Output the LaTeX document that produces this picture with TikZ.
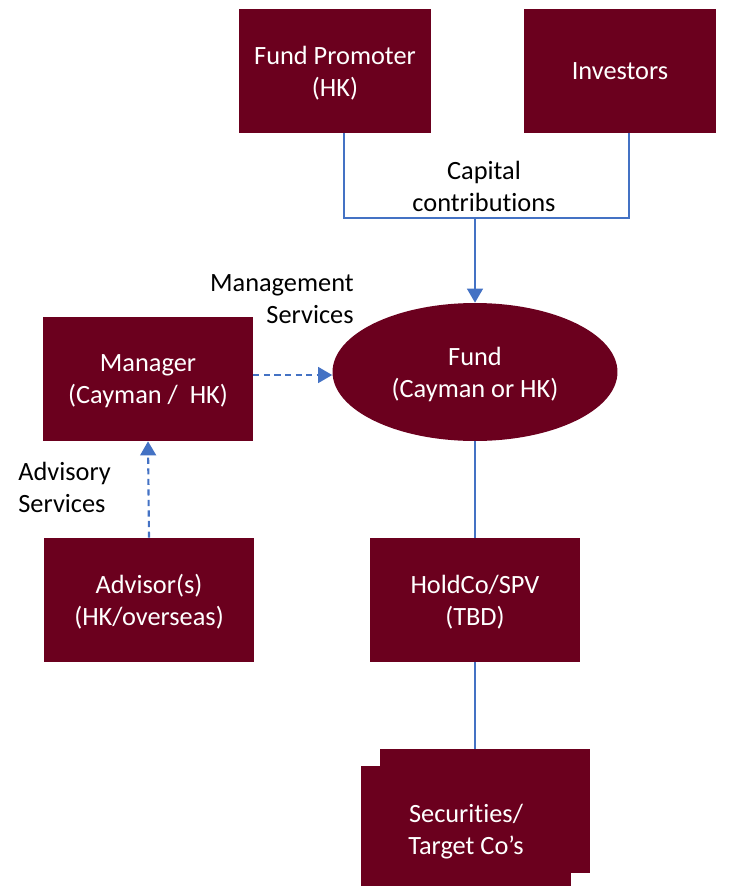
\documentclass[tikz,border=0pt]{standalone}
\usepackage{fontspec}
\setmainfont{Carlito}[Ligatures=CommonOff]
\usetikzlibrary{arrows.meta,shapes.geometric}
\definecolor{fundred}{RGB}{107,0,30}
\definecolor{flowblue}{RGB}{68,114,196}
\tikzset{
  entity/.style={fill=fundred, text=white, minimum width=4.2cm, minimum height=2.48cm,
    align=center, inner sep=0pt, text depth=0pt, font=\fontsize{15}{18.2}\selectfont},
  flow/.style={draw=flowblue, line width=1.2pt},
  lbl/.style={align=center, inner sep=0pt, font=\fontsize{15}{18.2}\selectfont}
}
\begin{document}
\begin{tikzpicture}[x=0.02cm, y=-0.02cm, >={Triangle[width=9pt,length=8pt]}]
\useasboundingbox (0,0) rectangle (730,886);
% top row
\node [entity, minimum width=3.84cm] (promoter) at (335,71) {Fund Promoter\\(HK)};
\node [entity, minimum width=3.84cm] (investors) at (620,71) {Investors};
% fund and service providers
\node [entity, ellipse, minimum width=5.7cm, minimum height=2.76cm] (fund) at (475,372) {Fund\\(Cayman or HK)};
\node [entity] (manager) at (148,379) {Manager\\(Cayman /~ HK)};
\node [entity] (advisor) at (149,600) {Advisor(s)\\(HK/overseas)};
\node [entity] (holdco) at (475,600) {HoldCo/SPV\\(TBD)};
% stacked targets
\node [entity] (targetback) at (485,811) {};
\node [entity, minimum height=2.52cm] (target) at (466,829) {Securities/\\Target Co's};
% labels
\node [lbl] (capital) at (484,186) {Capital\\contributions};
\node [lbl, align=right, anchor=east] (mgmt) at (354,299) {Management\\Services};
\node [lbl, align=left, anchor=west] (adv) at (18,487) {Advisory\\Services};
% connectors
\coordinate (join) at (475,218);
\draw [flow] ([xshift=0.18cm]promoter.south) |- (join) -| ([xshift=0.18cm]investors.south);
\draw [flow, ->] (join) -- (fund.north);
\draw [flow, ->, dash pattern=on 3.5pt off 2.5pt] ([yshift=0.08cm]manager.east) -- ([yshift=0.08cm]manager.east -| fund.west);
\draw [flow, ->, dash pattern=on 3.5pt off 2.5pt] (advisor.north) -- (manager.south);
\draw [flow] (fund.south) -- (holdco.north);
\draw [flow] (holdco.south) -- (holdco.south |- targetback.north);
\end{tikzpicture}
\end{document}
